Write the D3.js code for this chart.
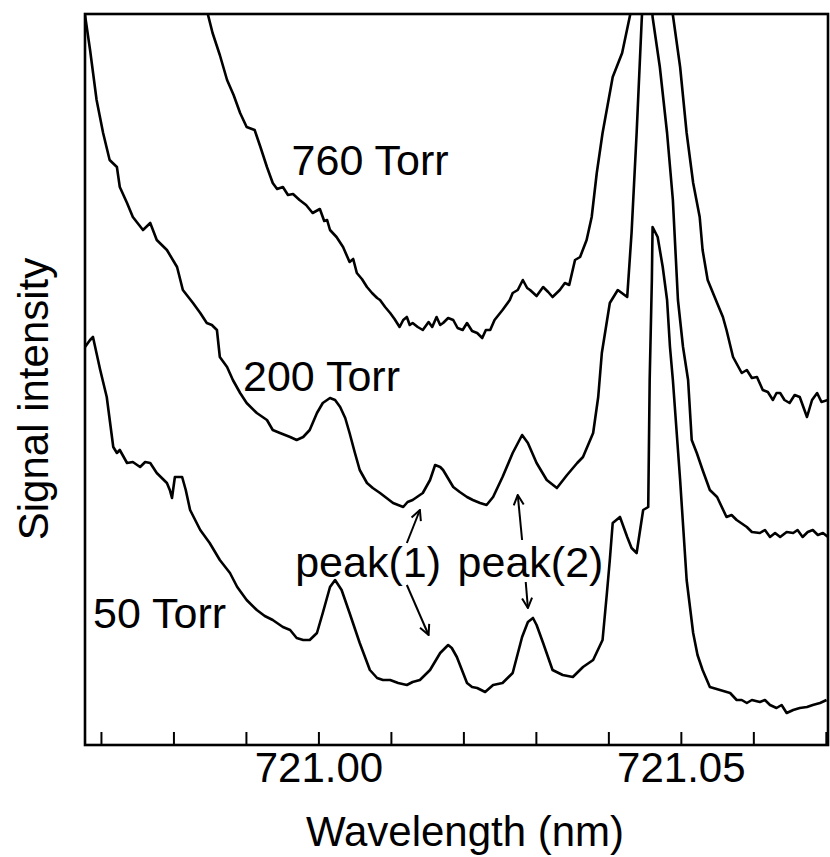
<!DOCTYPE html>
<html><head><meta charset="utf-8">
<script src="https://cdn.jsdelivr.net/npm/d3@7"></script>
<style>body{margin:0;background:#fff;} svg{display:block;}</style>
</head><body>
<svg id="chart" width="830" height="857"></svg>
<script>
// Wavelength (nm), signal intensity (arbitrary units)
const torr760 = [
[720.9846,735],[720.9854,712],[720.9864,690],[720.9874,665],[720.9883,650],[720.9892,632],[720.9901,618],[720.9912,615],
[720.9920,598],[720.9929,578],[720.9937,562],[720.9943,556],[720.9951,558],[720.9958,550],[720.9965,551],[720.9974,545],
[720.9983,540],[720.9992,532],[721.0002,536],[721.0008,524],[721.0012,525],[721.0016,515],[721.0025,508],[721.0034,498],
[721.0043,483],[721.0048,486],[721.0053,472],[721.0060,466],[721.0067,458],[721.0074,452],[721.0081,447],[721.0085,445],
[721.0092,438],[721.0099,432],[721.0105,426],[721.0112,418],[721.0117,425],[721.0122,428],[721.0126,420],[721.0130,422],
[721.0137,418],[721.0144,415],[721.0152,423],[721.0157,418],[721.0163,428],[721.0168,420],[721.0172,422],[721.0179,427],
[721.0186,425],[721.0192,417],[721.0199,415],[721.0205,422],[721.0212,414],[721.0219,412],[721.0226,407],[721.0231,415],
[721.0237,415],[721.0243,425],[721.0254,435],[721.0264,445],[721.0268,452],[721.0275,455],[721.0282,465],[721.0288,457],
[721.0292,455],[721.0301,449],[721.0310,458],[721.0317,453],[721.0323,448],[721.0333,455],[721.0340,462],[721.0346,460],
[721.0354,485],[721.0361,488],[721.0370,505],[721.0377,528],[721.0384,572],[721.0392,612],[721.0399,640],[721.0406,668],
[721.0419,692],[721.0430,730],[721.0445,820],[721.0459,870],[721.0474,820],[721.0489,730],[721.0499,678],[721.0508,612],
[721.0517,562],[721.0526,528],[721.0530,495],[721.0537,465],[721.0550,442],[721.0558,428],[721.0563,415],[721.0572,388],
[721.0584,372],[721.0591,375],[721.0598,367],[721.0605,368],[721.0613,355],[721.0620,353],[721.0627,345],[721.0632,352],
[721.0637,352],[721.0643,345],[721.0650,342],[721.0657,350],[721.0664,348],[721.0674,328],[721.0681,345],[721.0688,352],
[721.0694,343],[721.0703,345]
];
const torr200 = [
[720.9678,730],[720.9685,695],[720.9694,645],[720.9703,612],[720.9712,585],[720.9722,578],[720.9726,558],[720.9736,542],
[720.9744,528],[720.9758,515],[720.9768,522],[720.9777,505],[720.9791,495],[720.9805,478],[720.9813,455],[720.9827,442],
[720.9837,432],[720.9846,422],[720.9853,420],[720.9860,415],[720.9864,388],[720.9874,378],[720.9882,365],[720.9892,352],
[720.9901,342],[720.9915,332],[720.9929,325],[720.9937,315],[720.9947,312],[720.9961,308],[720.9970,305],[720.9979,308],
[720.9988,315],[720.9998,332],[721.0006,342],[721.0016,347],[721.0023,345],[721.0030,338],[721.0037,327],[721.0043,312],
[721.0050,293],[721.0057,275],[721.0067,262],[721.0075,257],[721.0085,252],[721.0094,247],[721.0103,242],[721.0110,240],
[721.0117,238],[721.0123,243],[721.0130,245],[721.0144,252],[721.0154,265],[721.0161,280],[721.0168,278],[721.0172,275],
[721.0186,258],[721.0195,253],[721.0205,248],[721.0213,245],[721.0223,242],[721.0232,240],[721.0241,248],[721.0254,268],
[721.0268,292],[721.0281,310],[721.0289,302],[721.0301,282],[721.0315,265],[721.0329,257],[721.0343,270],[721.0357,282],
[721.0365,288],[721.0379,312],[721.0386,348],[721.0391,392],[721.0402,442],[721.0413,455],[721.0426,448],[721.0432,512],
[721.0439,612],[721.0446,725],[721.0455,845],[721.0461,728],[721.0471,678],[721.0481,612],[721.0489,545],[721.0496,445],
[721.0503,398],[721.0510,365],[721.0515,305],[721.0522,292],[721.0530,275],[721.0540,255],[721.0550,248],[721.0563,228],
[721.0570,230],[721.0577,225],[721.0591,218],[721.0598,213],[721.0609,212],[721.0616,215],[721.0623,208],[721.0630,212],
[721.0637,208],[721.0646,213],[721.0655,212],[721.0661,215],[721.0668,208],[721.0675,213],[721.0682,215],[721.0689,210],
[721.0696,212],[721.0703,208]
];
const torr50 = [
[720.9678,398],[720.9685,405],[720.9689,408],[720.9699,375],[720.9708,348],[720.9717,298],[720.9722,292],[720.9726,295],
[720.9736,282],[720.9744,283],[720.9754,278],[720.9761,283],[720.9768,282],[720.9777,272],[720.9784,267],[720.9791,262],
[720.9795,255],[720.9798,247],[720.9802,268],[720.9812,268],[720.9817,255],[720.9823,235],[720.9837,215],[720.9850,202],
[720.9864,185],[720.9878,172],[720.9888,158],[720.9901,145],[720.9915,135],[720.9926,129],[720.9937,125],[720.9951,118],
[720.9961,115],[720.9970,107],[720.9979,105],[720.9988,105],[720.9998,112],[721.0006,132],[721.0016,158],[721.0023,165],
[721.0032,155],[721.0043,132],[721.0057,102],[721.0071,75],[721.0081,67],[721.0089,65],[721.0099,65],[721.0110,62],
[721.0122,60],[721.0130,63],[721.0140,65],[721.0154,75],[721.0168,92],[721.0179,100],[721.0184,97],[721.0191,88],
[721.0205,62],[721.0212,58],[721.0219,57],[721.0230,53],[721.0241,60],[721.0254,62],[721.0268,72],[721.0281,108],
[721.0289,123],[721.0296,127],[721.0301,120],[721.0310,102],[721.0323,75],[721.0337,70],[721.0351,68],[721.0358,73],
[721.0365,78],[721.0379,85],[721.0392,105],[721.0398,152],[721.0402,185],[721.0406,222],[721.0416,228],[721.0426,208],
[721.0432,197],[721.0439,192],[721.0448,235],[721.0455,238],[721.0457,365],[721.0460,465],[721.0461,518],[721.0468,508],
[721.0475,478],[721.0481,445],[721.0485,398],[721.0489,365],[721.0499,265],[721.0508,165],[721.0517,112],[721.0523,90],
[721.0530,75],[721.0540,58],[721.0554,55],[721.0568,52],[721.0577,45],[721.0584,45],[721.0591,42],[721.0598,45],
[721.0609,43],[721.0616,45],[721.0623,40],[721.0632,37],[721.0639,40],[721.0646,32],[721.0655,35],[721.0664,37],
[721.0674,38],[721.0682,40],[721.0692,42],[721.0701,45]
];
const tickValues = [720.97,720.98,720.99,721.00,721.01,721.02,721.03,721.04,721.05,721.06,721.07];
const tickLabels = {"721.00":"721.00","721.05":"721.05"};
// curve labels: [text, wavelength, intensity]
const curveLabels = [["760 Torr",720.9963,570],["200 Torr",720.9896,354],["50 Torr",720.9689,117],
                     ["peak(1)",720.9968,168],["peak(2)",721.0192,168]];
// arrows: [wl from, I from, wl to, I to]
const arrows = [[721.0122,202,721.0140,235],[721.0122,160,721.0152,110],
                [721.0281,205,721.0275,250],[721.0286,163,721.0289,137]];

const svg = d3.select("#chart");
const L = 85, R = 828, T = 14, B = 745;
const x = d3.scaleLinear().domain([720.9678, 721.0703]).range([L, R]);
const y = d3.scaleLinear().domain([0, 731]).range([B, T]);
const font = "'Liberation Sans', Arial, Helvetica, sans-serif";

svg.append("defs").append("clipPath").attr("id","clip")
  .append("rect").attr("x",L).attr("y",T).attr("width",R-L).attr("height",B-T);
const defs = svg.select("defs");
defs.append("marker").attr("id","arr").attr("viewBox","0 0 12 12").attr("refX",11).attr("refY",6)
  .attr("markerWidth",12).attr("markerHeight",12).attr("markerUnits","userSpaceOnUse").attr("orient","auto")
  .append("path").attr("d","M1,1 L11,6 L1,11").attr("fill","none").attr("stroke","#000").attr("stroke-width",2);

const line = d3.line().x(d=>x(d[0])).y(d=>y(d[1]));
const g = svg.append("g").attr("clip-path","url(#clip)");
[torr760, torr200, torr50].forEach(s=>{
  g.append("path").datum(s).attr("d",line).attr("fill","none").attr("stroke","#000")
   .attr("stroke-width",2.6).attr("stroke-linejoin","round");
});

// axis
const ax = d3.axisBottom(x).tickValues(tickValues).tickSizeInner(-13).tickSizeOuter(0).tickPadding(7)
  .tickFormat(d=>tickLabels[d3.format(".2f")(d)] || "");
const axg = svg.append("g").attr("transform",`translate(0,${B})`).call(ax);
axg.select(".domain").remove();
axg.selectAll("line").attr("stroke","#000").attr("stroke-width",2);
axg.selectAll("text").attr("font-family",font).attr("font-size",42).attr("fill","#000");

// frame
svg.append("rect").attr("x",L).attr("y",T).attr("width",R-L).attr("height",B-T)
  .attr("fill","none").attr("stroke","#000").attr("stroke-width",2.6);

// labels
curveLabels.forEach(c=>{
  svg.append("text").attr("x",x(c[1])).attr("y",y(c[2])).text(c[0])
   .attr("font-family",font).attr("font-size",43).attr("fill","#000");
});
arrows.forEach(a=>{
  svg.append("line").attr("x1",x(a[0])).attr("y1",y(a[1])).attr("x2",x(a[2])).attr("y2",y(a[3]))
   .attr("stroke","#000").attr("stroke-width",2).attr("marker-end","url(#arr)");
});

svg.append("text").attr("x",465).attr("y",846).attr("text-anchor","middle")
  .attr("font-family",font).attr("font-size",42).text("Wavelength (nm)");
svg.append("text").attr("transform","translate(48,399) rotate(-90)").attr("text-anchor","middle")
  .attr("font-family",font).attr("font-size",42).text("Signal intensity");
</script>
</body></html>
